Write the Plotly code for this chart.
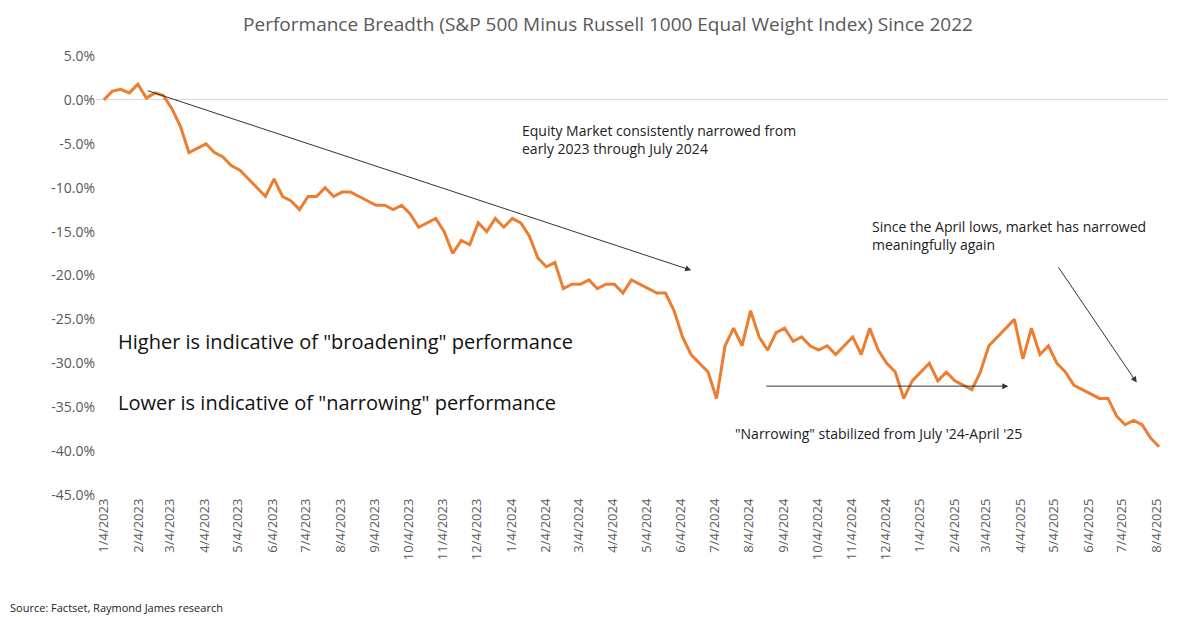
import pandas as pd
import plotly.graph_objects as go

# weekly readings of the breadth spread, % (S&P 500 minus Russell 1000 EW)
values = [0, 1, 1.2, 0.8, 1.8, 0.2, 0.8, 0.5,
          -1, -3, -6, -5.5, -5, -6, -6.5, -7.5,
          -8, -9, -10, -11, -9, -11, -11.5, -12.5,
          -11, -11, -10, -11, -10.5, -10.5, -11, -11.5, -12,
          -12, -12.5, -12, -13, -14.5, -14, -13.5, -15,
          -17.5, -16, -16.5, -14, -15, -13.5, -14.5, -13.5, -14,
          -15.5, -18, -19, -18.5, -21.5, -21, -21, -20.5,
          -21.5, -21, -21, -22, -20.5, -21, -21.5, -22,
          -22, -24, -27, -29, -30, -31, -34, -28,
          -26, -28, -24, -27, -28.5, -26.5, -26, -27.5,
          -27, -28, -28.5, -28, -29, -28, -27, -29,
          -26, -28.5, -30, -31, -34, -32, -31, -30,
          -32, -31, -32, -32.5, -33, -31, -28, -27,
          -26, -25, -29.5, -26, -29, -28, -30, -31,
          -32.5, -33, -33.5, -34, -34, -36, -37, -36.5,
          -37, -38.5, -39.5]
dates = pd.date_range("2023-01-04", "2025-08-06", periods=len(values))

tick_dates = pd.date_range("2023-01-01", "2025-08-01", freq="MS") + pd.Timedelta(days=3)
tick_text = [f"{d.month}/{d.day}/{d.year}" for d in tick_dates]
y_ticks = list(range(5, -50, -5))

fig = go.Figure()
fig.add_trace(go.Scatter(x=dates, y=values, mode="lines",
                         line=dict(color="#ED7D31", width=3)))

arrows = [
    ("2023-02-11", 1.1, "2024-06-13", -19.4),
    ("2024-08-18", -32.6, "2025-03-24", -32.6),
    ("2025-05-07", -18.9, "2025-07-17", -32.2),
]
for ax_, ay_, x_, y_ in arrows:
    fig.add_annotation(x=x_, y=y_, ax=ax_, ay=ay_, xref="x", yref="y",
                       axref="x", ayref="y", showarrow=True, arrowhead=2,
                       arrowsize=1.2, arrowwidth=1, arrowcolor="#333", text="")

small = dict(size=14, color="#222")
fig.add_annotation(x="2024-01-12", y=-4.5, xref="x", yref="y", showarrow=False, xanchor="left",
                   align="left", font=small,
                   text="Equity Market consistently narrowed from<br>early 2023 through July 2024")
fig.add_annotation(x="2024-11-20", y=-15.5, xref="x", yref="y", showarrow=False, xanchor="left",
                   align="left", font=small,
                   text="Since the April lows, market has narrowed<br>meaningfully again")
fig.add_annotation(x="2024-07-20", y=-38, xref="x", yref="y", showarrow=False, xanchor="left",
                   font=small, text="\"Narrowing\" stabilized from July '24-April '25")
big = dict(size=20, color="#111")
fig.add_annotation(x="2023-01-15", y=-27.5, xref="x", yref="y", showarrow=False, xanchor="left",
                   font=big, text="Higher is indicative of \"broadening\" performance")
fig.add_annotation(x="2023-01-15", y=-34.5, xref="x", yref="y", showarrow=False, xanchor="left",
                   font=big, text="Lower is indicative of \"narrowing\" performance")
fig.add_annotation(x=0, y=0, xref="paper", yref="paper", yshift=-122, xshift=-88,
                   showarrow=False, xanchor="left", yanchor="bottom",
                   font=dict(size=11, color="#222"), text="Source: Factset, Raymond James research")

fig.update_layout(
    width=1200, height=617, template="none", showlegend=False,
    paper_bgcolor="white", plot_bgcolor="white",
    font=dict(family="Open Sans, Calibri, sans-serif", color="#595959"),
    title=dict(text="Performance Breadth (S&P 500 Minus Russell 1000 Equal Weight Index) Since 2022",
               x=0.5, xanchor="center", y=0.985, font=dict(size=19, color="#595959")),
    margin=dict(l=88, r=40, t=48, b=130),
    xaxis=dict(range=["2022-12-28", "2025-08-14"], tickvals=tick_dates, ticktext=tick_text,
               tickangle=-90, showgrid=False, zeroline=False, showline=False,
               tickfont=dict(size=13, color="#595959")),
    yaxis=dict(range=[-45, 5], tickvals=y_ticks, ticktext=[f"{v:.1f}%" for v in y_ticks],
               showgrid=False, zeroline=True, zerolinecolor="#d9d9d9", zerolinewidth=1,
               tickfont=dict(size=14, color="#595959")),
)
fig.write_html("out.html")
